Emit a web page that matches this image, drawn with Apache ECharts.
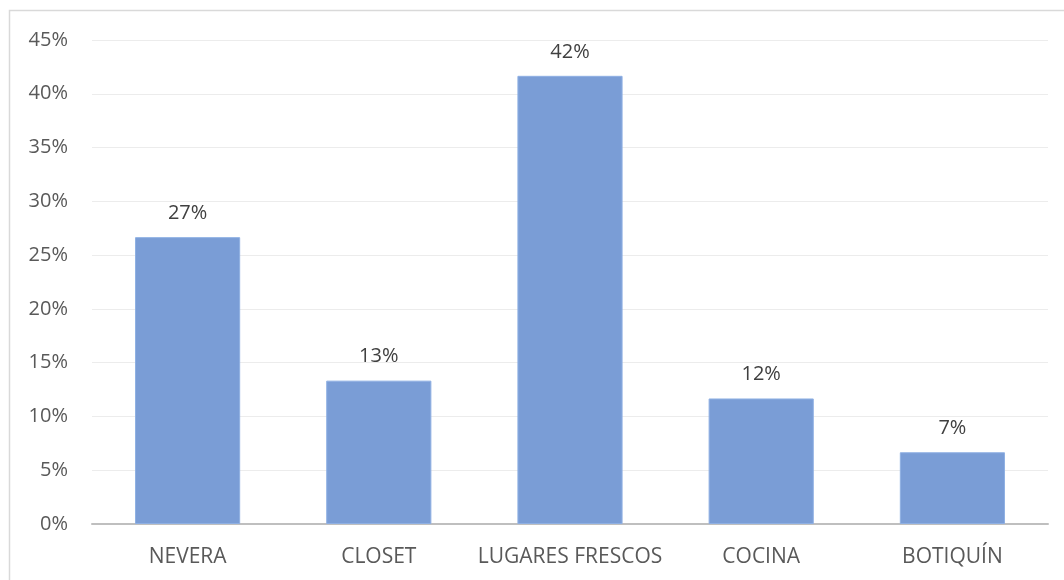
<!DOCTYPE html>
<html><head><meta charset="utf-8">
<script src="https://cdn.jsdelivr.net/npm/echarts@6/dist/echarts.min.js"></script>
<style>html,body{margin:0;padding:0;background:#fff}#c{width:1064px;height:580px}</style>
</head><body><div id="c"></div>
<script>
const categories = ['NEVERA', 'CLOSET', 'LUGARES FRESCOS', 'COCINA', 'BOTIQUÍN'];
const values = [26.67, 13.33, 41.67, 11.67, 6.67];
const yTicks = [0, 5, 10, 15, 20, 25, 30, 35, 40, 45];

const chart = echarts.init(document.getElementById('c'));
chart.setOption({
  animation: false,
  backgroundColor: '#fff',
  graphic: [{
    type: 'rect', shape: {x: 9.5, y: 10.5, width: 1070, height: 600},
    style: {fill: 'none', stroke: '#d9d9d9', lineWidth: 1.5}, silent: true
  }],
  grid: {left: 92, right: 16, top: 40, bottom: 56},
  xAxis: {
    type: 'category', data: categories,
    axisLine: {lineStyle: {color: '#bfbfbf', width: 2}},
    axisTick: {show: false},
    axisLabel: {interval: 0, color: '#595959', fontSize: 21, fontFamily: 'Open Sans', margin: 23}
  },
  yAxis: {
    type: 'value', min: yTicks[0], max: yTicks[yTicks.length - 1], interval: 5,
    axisLine: {show: false}, axisTick: {show: false},
    splitLine: {lineStyle: {color: '#ececec', width: 1}},
    axisLabel: {color: '#595959', fontSize: 20, fontFamily: 'Open Sans', margin: 24,
      formatter: v => v + '%'}
  },
  series: [{
    type: 'bar', data: values, barWidth: '55%',
    itemStyle: {color: '#7a9dd6', borderColor: '#8fb0e3', borderWidth: 1},
    label: {show: true, position: 'top', distance: 14, color: '#404040', fontSize: 20,
      fontFamily: 'Open Sans', formatter: p => Math.round(p.value) + '%'}
  }]
});
</script></body></html>
